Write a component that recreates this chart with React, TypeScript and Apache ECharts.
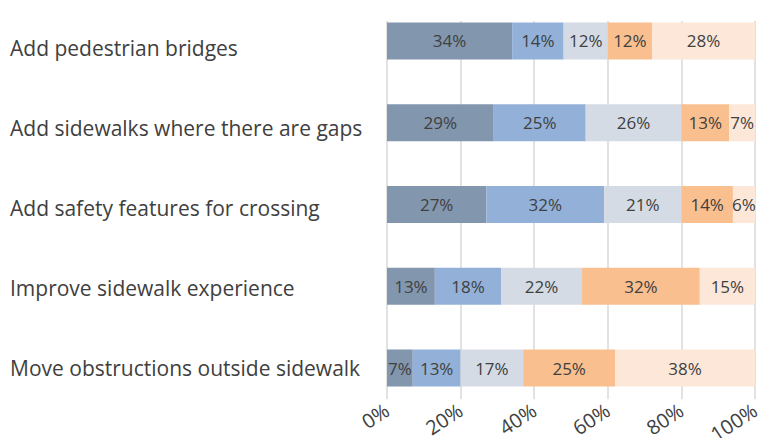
import React, { useEffect, useRef } from "react";
import * as echarts from "echarts";

const categories = [
  "Add pedestrian bridges",
  "Add sidewalks where there are gaps",
  "Add safety features for crossing",
  "Improve sidewalk experience",
  "Move obstructions outside sidewalk",
];
const seriesA = [34, 29, 27, 13, 7];
const seriesB = [14, 25, 32, 18, 13];
const seriesC = [12, 26, 21, 22, 17];
const seriesD = [12, 13, 14, 32, 25];
const seriesE = [28, 7, 6, 15, 38];
const tickValues = [0, 20, 40, 60, 80, 100];
const colors = ["#8296ae", "#93b1d8", "#d5dbe4", "#f9bf8f", "#fde7d8"];

export default function App() {
  const ref = useRef<HTMLDivElement>(null);
  useEffect(() => {
    const chart = echarts.init(ref.current!, null, { renderer: "svg" });
    const all = [seriesA, seriesB, seriesC, seriesD, seriesE];
    const font = "Open Sans";
    const minV = tickValues[0];
    const maxV = tickValues[tickValues.length - 1];
    chart.setOption({
      animation: false,
      grid: [
        { left: 387, right: 17, top: -1, height: 410, containLabel: false },
        { left: 387, right: 17, top: 21, bottom: 44, containLabel: false },
        { left: 387, right: 17, top: 8, height: 400, containLabel: false },
      ],
      xAxis: [
        { gridIndex: 0, type: "value", min: minV, max: maxV, interval: 20, show: false },
        {
          gridIndex: 1,
          type: "value",
          min: minV,
          max: maxV,
          interval: 20,
          axisLine: { show: false },
          axisTick: { show: false },
          splitLine: { show: true, lineStyle: { color: "#d9d9d9", width: 1.5 } },
          axisLabel: {
            formatter: "{value}%",
            rotate: 33,
            fontFamily: font,
            fontSize: 20,
            color: "#404040",
            margin: 9,
          },
        },
        { gridIndex: 2, type: "value", min: minV, max: maxV, interval: 20, show: false },
      ],
      yAxis: [
        { gridIndex: 0, type: "category", inverse: true, data: categories, show: false },
        { gridIndex: 1, type: "category", data: categories, show: false },
        {
          gridIndex: 2,
          type: "category",
          inverse: true,
          data: categories,
          axisLine: { show: false },
          axisTick: { show: false },
          splitLine: { show: false },
          axisLabel: {
            align: "left",
            margin: 377,
            fontFamily: font,
            fontSize: 21,
            color: "#404040",
          },
        },
      ],
      series: all.map((d, i) => ({
        type: "bar",
        stack: "total",
        xAxisIndex: 0,
        yAxisIndex: 0,
        data: d,
        barWidth: 37,
        z: 3,
        itemStyle: { color: colors[i] },
        label: {
          show: true,
          position: "inside",
          formatter: "{c}%",
          fontFamily: font,
          fontSize: 17,
          color: "#404040",
        },
      })),
    });
    return () => chart.dispose();
  }, []);
  return <div ref={ref} style={{ width: 772, height: 446, margin: -8 }} />;
}
